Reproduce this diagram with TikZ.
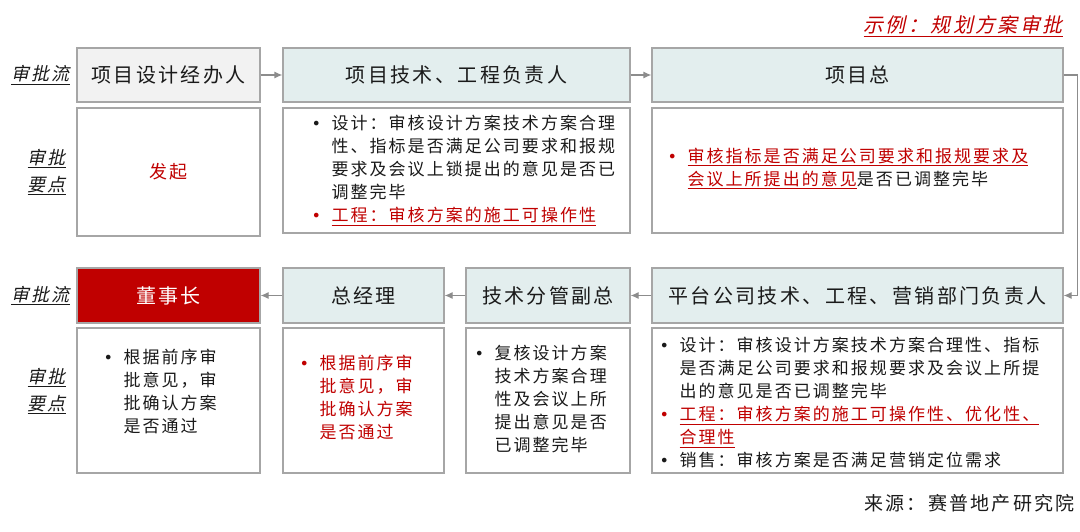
\documentclass[tikz,border=0pt]{standalone}
\usepackage{fontspec}
\setmainfont{Noto Sans CJK SC}[LetterSpace=12]
\newfontfamily\slantfont{Noto Sans CJK SC}[LetterSpace=12,FakeSlant=0.22]
\newfontfamily\dotfont{DejaVu Sans}
\usepackage{tikz}
\usetikzlibrary{arrows.meta}
\definecolor{boxgray}{HTML}{A6A6A6}
\definecolor{arrowgray}{HTML}{8C8C8C}
\definecolor{lightfill}{HTML}{F2F2F2}
\definecolor{bluefill}{HTML}{E3EEEE}
\definecolor{darkred}{HTML}{C00000}
\definecolor{ink}{HTML}{1A1A1A}
\newcommand{\undl}[1]{\setbox0\hbox{#1}\rlap{\rule[-4pt]{\wd0}{0.9pt}}\box0}
\newcommand{\bul}{\llap{\makebox[20pt][l]{\dotfont\fontsize{16}{16}\selectfont •}}}
\tikzset{
 flowbox/.style={draw=boxgray, line width=1.2pt, fill=bluefill, minimum height=54pt, inner sep=0pt, text=ink, font=\fontsize{20}{24}\selectfont},
 notebox/.style={draw=boxgray, line width=1.2pt, fill=white, inner sep=0pt},
 notetext/.style={anchor=west, inner sep=0pt, align=left, text=ink, font=\fontsize{17}{23}\selectfont},
 sidelabel/.style={anchor=east, inner sep=0pt, align=center, text=ink, font=\slantfont\fontsize{18}{27}\selectfont},
 arr/.style={draw=arrowgray, line width=1.2pt, -{Latex[length=8pt,width=7pt]}}
}
\begin{document}
\begin{tikzpicture}[x=1pt,y=-1pt]
 \path[use as bounding box] (0,0) rectangle (1080,532);

\node[anchor=east, inner sep=0pt, text=darkred, font=\slantfont\fontsize{20}{24}\selectfont] (title) at (1063,26) {\undl{示例：规划方案审批}};

\node[flowbox, fill=lightfill, minimum width=183pt] (p1) at (168.5,75) {项目设计经办人};
\node[flowbox, minimum width=347pt] (p2) at (456.5,75) {项目技术、工程负责人};
\node[flowbox, minimum width=411pt] (p3) at (857.5,75) {项目总};

\node[notebox, minimum width=183pt, minimum height=128pt, text=darkred, font=\fontsize{18}{22}\selectfont] (d1) at (168.5,172) {发起};
\node[notebox, minimum width=347pt, minimum height=125pt] (d2) at (456.5,170.5) {};
\node[notebox, minimum width=411pt, minimum height=125pt] (d3) at (857.5,170.5) {};

\node[notetext, xshift=49pt] (t2) at (d2.west) {\bul 设计：审核设计方案技术方案合理\\
 性、指标是否满足公司要求和报规\\
 要求及会议上锁提出的意见是否已\\
 调整完毕\\
 \textcolor{darkred}{\bul\undl{工程：审核方案的施工可操作性}}};
\node[notetext, text=darkred, xshift=36pt, yshift=2pt] (t3) at (d3.west) {\bul\undl{审核指标是否满足公司要求和报规要求及}\\
 \undl{会议上所提出的意见}\textcolor{ink}{是否已调整完毕}};

\node[flowbox, fill=darkred, text=white, minimum width=183pt, minimum height=55pt] (p4) at (168.5,295.5) {董事长};
\node[flowbox, minimum width=161pt, minimum height=55pt] (p5) at (363.5,295.5) {总经理};
\node[flowbox, minimum width=164pt, minimum height=55pt] (p6) at (548,295.5) {技术分管副总};
\node[flowbox, minimum width=411pt, minimum height=55pt] (p7) at (857.5,295.5) {平台公司技术、工程、营销部门负责人};

\node[notebox, minimum width=183pt, minimum height=145pt] (d4) at (168.5,400.5) {};
\node[notebox, minimum width=161pt, minimum height=145pt] (d5) at (363.5,400.5) {};
\node[notebox, minimum width=164pt, minimum height=145pt] (d6) at (548,400.5) {};
\node[notebox, minimum width=411pt, minimum height=145pt] (d7) at (857.5,400.5) {};

\node[notetext, xshift=47pt, yshift=9.5pt] (t4) at (d4.west) {\bul 根据前序审\\ 批意见，审\\ 批确认方案\\ 是否通过};
\node[notetext, text=darkred, xshift=37pt, yshift=3.5pt] (t5) at (d5.west) {\bul 根据前序审\\ 批意见，审\\ 批确认方案\\ 是否通过};
\node[notetext, xshift=29pt, yshift=1.5pt] (t6) at (d6.west) {\bul 复核设计方案\\ 技术方案合理\\ 性及会议上所\\ 提出意见是否\\ 已调整完毕};
\node[notetext, xshift=28pt, yshift=-2pt] (t7) at (d7.west) {\bul 设计：审核设计方案技术方案合理性、指标\\
 是否满足公司要求和报规要求及会议上所提\\
 出的意见是否已调整完毕\\
 \textcolor{darkred}{\bul\undl{工程：审核方案的施工可操作性、优化性、}}\\
 \textcolor{darkred}{\undl{合理性}}\\
 \bul 销售：审核方案是否满足营销定位需求};

\node[sidelabel] (s1) at (70,75) {\undl{审批流}};
\node[sidelabel] (s2) at (66,172) {\undl{审批}\\\undl{要点}};
\node[sidelabel] (s3) at (70,295.5) {\undl{审批流}};
\node[sidelabel] (s4) at (66,391) {\undl{审批}\\\undl{要点}};

\draw[arr] (p1) -- (p2);
\draw[arr] (p2) -- (p3);
\draw[arr] (p3.east) -- ++(14,0) |- (p7.east);
\draw[arr] (p7) -- (p6);
\draw[arr] (p6) -- (p5);
\draw[arr] (p5) -- (p4);

\node[anchor=east, inner sep=0pt, text=ink, font=\fontsize{19}{23}\selectfont] (src) at (1075,503) {来源：赛普地产研究院};

\end{tikzpicture}
\end{document}
